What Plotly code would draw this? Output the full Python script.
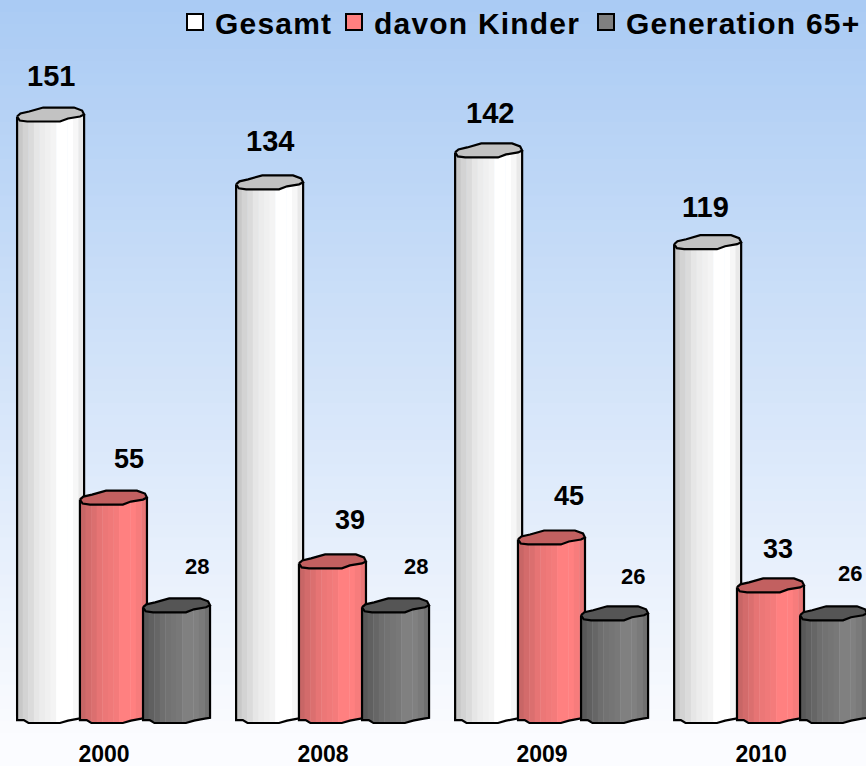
import numpy as np
import plotly.graph_objects as go

# values
years = ["2000", "2008", "2009", "2010"]
gesamt = [151, 134, 142, 119]
kinder = [55, 39, 45, 33]
generation = [28, 28, 26, 26]

FONT = "Liberation Sans"
BAR_W = 0.306

# name, values, left edge from category centre, lit colour, dark colour, cap colour,
# label size, legend left edge in px
SERIES = [
    ("Gesamt", gesamt, -0.397, (255, 255, 255), (200, 200, 200), "#c2c2c2", 29, 175),
    ("davon Kinder", kinder, -0.110, (255, 128, 128), (200, 102, 102), "#c26060", 27, 334),
    ("Generation 65+", generation, 0.178, (128, 128, 128), (88, 88, 88), "#555555", 22, 586),
]
# the value labels are placed by hand in the reference, so each has its own nudge
LABEL_DX = [[0, 0, 1, -2], [16, 18, 18, 7], [20, 20, 18, 16]]
LABEL_DY = [[39, 41, 37, 35], [39, 41, 41, 36], [39, 39, 37, 40]]

# shading across one cylinder, left to right
SHADE = [0, 0.2, 0.35, 0.55, 0.65, 0.72, 0.8, 1, 1, 1, 0.85, 0.6]
# wobbly outline of the cap and the foot (fraction of width, value offset)
CAP_U = [0, 0.05, 0.18, 0.39, 0.85, 0.97, 1, 0.94, 0.76, 0.64, 0.15, 0.04, 0]
CAP_DY = [-0.5, 0.25, 0.75, 1.75, 1.75, 1, 0, -0.5, -1, -1.75, -1.75, -1.5, -0.5]
FOOT_U = [0, 0.1, 0.17, 0.64, 0.76, 0.92, 1]
FOOT_DY = [-0.75, -0.75, -1.5, -1.5, -0.9, -0.4, -0.2]


def mix(dark, lit, t):
    return "rgb(%d,%d,%d)" % tuple(round(d + t * (l - d)) for d, l in zip(dark, lit))


fig = go.Figure()
pos = np.arange(len(years))
n = len(SHADE)
legends = {}

for z, (name, vals, left, lit, dark, cap, size, leg_x) in enumerate(SERIES, start=1):
    xs, ys, bases, offs, cols = [], [], [], [], []
    for p, v in zip(pos, vals):
        for k, t in enumerate(SHADE):
            base = float(np.interp((k + 0.5) / n, FOOT_U, FOOT_DY))
            xs.append(p)
            ys.append(v - base)
            bases.append(base)
            offs.append(left + k * BAR_W / n)
            cols.append(mix(dark, lit, t))
    fig.add_trace(go.Bar(
        x=xs, y=ys, base=bases, offset=offs, width=BAR_W / n + 0.002,
        marker=dict(color=cols, line=dict(width=0)),
        showlegend=False, hoverinfo="skip", zorder=z,
    ))

    # sides and foot
    bx, by, cx, cy = [], [], [], []
    for p, v in zip(pos, vals):
        x0 = p + left
        bx += [x0, *[x0 + u * BAR_W for u in FOOT_U], x0 + BAR_W, None]
        by += [v - 0.5, *FOOT_DY, v, None]
        cx += [x0 + u * BAR_W for u in CAP_U] + [None]
        cy += [v + d for d in CAP_DY] + [None]
    fig.add_trace(go.Scatter(
        x=bx, y=by, mode="lines", line=dict(color="black", width=2.2),
        showlegend=False, hoverinfo="skip", zorder=z,
    ))
    fig.add_trace(go.Scatter(
        x=cx, y=cy, mode="lines", fill="toself", fillcolor=cap,
        line=dict(color="black", width=2.2),
        showlegend=False, hoverinfo="skip", zorder=z,
    ))

    # one legend per series so each entry can sit where the reference has it
    key = "legend" if z == 1 else f"legend{z}"
    fig.add_trace(go.Scatter(
        x=[None], y=[None], mode="markers", name=name, legend=key,
        marker=dict(symbol="square", size=16, color=mix(dark, lit, 1),
                    line=dict(color="black", width=2)),
    ))
    legends[key] = dict(
        x=leg_x / 866, xanchor="left", y=1.0, yanchor="top",
        bgcolor="rgba(0,0,0,0)", itemsizing="trace",
        font=dict(family=FONT, size=30, color="black", weight="bold"),
    )

    for p, v, dx, dy in zip(pos, vals, LABEL_DX[z - 1], LABEL_DY[z - 1]):
        fig.add_annotation(
            x=p + left + BAR_W / 2, y=v, text=str(v), showarrow=False,
            xshift=dx, yshift=dy,
            font=dict(family=FONT, size=size, color="black", weight="bold"),
        )

# background gradient, blue at the top fading to near white; each band runs to the
# bottom of the plot so no seams show between them
top = np.array([170, 203, 244])
bottom = np.array([251, 252, 255])
bands = 60
for i in range(bands):
    c = top + (bottom - top) * (i + 0.5) / bands
    fig.add_shape(
        type="rect", xref="paper", yref="paper", layer="below",
        x0=0, x1=1, y0=1 - i / bands, y1=0,
        fillcolor="rgb(%d,%d,%d)" % tuple(c), line=dict(width=0),
    )

fig.update_layout(
    width=866, height=766,
    margin=dict(l=0, r=0, t=0, b=33),
    barmode="overlay",
    paper_bgcolor="#fbfcff",
    plot_bgcolor="rgba(0,0,0,0)",
    showlegend=True,
    xaxis=dict(
        range=[-0.475, 3.479], tickmode="array", tickvals=pos, ticktext=years,
        showgrid=False, zeroline=False, showline=False, ticks="",
        ticklabelstandoff=5,
        tickfont=dict(family=FONT, size=23, color="black", weight="bold"),
    ),
    yaxis=dict(range=[-4.0, 179.7], visible=False),
    **legends,
)

# drop the page margin, space the legend letters out like the reference, lift the legends
post = """
var css = document.createElement('style');
css.textContent = 'body {margin: 0}'
    + ' .legendtext, .legend2text, .legend3text {letter-spacing: 1.2px}'
    + ' .scrollbox {clip-path: none; transform: translateY(-4px)}';
document.head.appendChild(css);
"""
fig.write_html("out.html", post_script=post, config=dict(displayModeBar=False))
